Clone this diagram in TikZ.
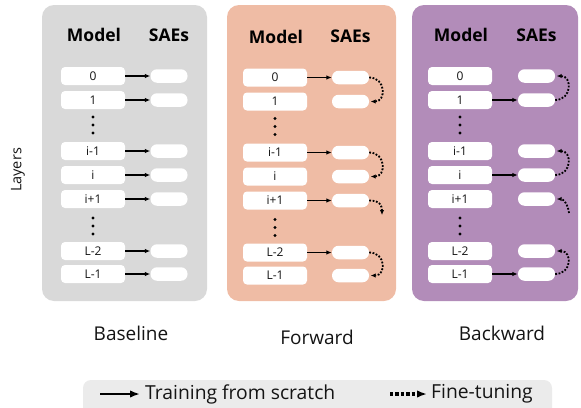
\documentclass[tikz,border=0pt]{standalone}
\usepackage{fontspec}
\setmainfont{Open Sans}
\usetikzlibrary{arrows.meta}
\definecolor{pgray}{HTML}{D9D9D9}
\definecolor{psalmon}{HTML}{EFBCA5}
\definecolor{ppurple}{HTML}{B28CB9}
\definecolor{lgray}{HTML}{EBEBEB}
\definecolor{txt}{HTML}{141414}
\tikzset{
  panel/.style={rounded corners=12pt},
  layerbox/.style={fill=white, rounded corners=4pt, minimum width=64pt, minimum height=18pt, inner sep=0pt, text=txt, font=\fontsize{12}{14}\selectfont},
  saebox/.style={fill=white, rounded corners=6.5pt, minimum width=37pt, minimum height=13.5pt, inner sep=0pt},
  vdot/.style={circle, fill=black, inner sep=0pt, minimum size=3.4pt},
  coltitle/.style={font=\fontsize{17.5}{20}\selectfont\bfseries, text=black},
  caption/.style={font=\fontsize{19}{22}\selectfont, text=txt},
  legtext/.style={font=\fontsize{19.3}{22}\selectfont, text=txt, anchor=west, inner sep=0pt},
  train/.style={-{Latex[length=5.5pt,width=4.5pt]}, line width=1.6pt},
  fine/.style={-{Latex[length=5pt,width=4.5pt]}, line width=1.8pt, dash pattern=on 1.8pt off 1.6pt},
  legtrain/.style={-{Latex[length=10pt,width=7.5pt]}, line width=2.5pt},
  legfine/.style={-{Latex[length=10pt,width=7.5pt]}, line width=3.2pt, dash pattern=on 3.4pt off 2pt},
}
\newcommand{\drawpanel}[4]{%
  \foreach \n/\lab/\yy in {a/0/76, b/1/100, c/i-1/151, d/i/175, e/i+1/199, f/L-2/251, g/L-1/274} {
    \node[layerbox] (#1m\n) at (#2,\yy+#4) {\lab};
    \node[saebox] (#1s\n) at (#3,\yy+#4) {};
  }
  \node[vdot] (#1du1) at (#2,117+#4) {};
  \node[vdot] (#1du2) at (#2,125+#4) {};
  \node[vdot] (#1du3) at (#2,133+#4) {};
  \node[vdot] (#1dl1) at (#2,218+#4) {};
  \node[vdot] (#1dl2) at (#2,226+#4) {};
  \node[vdot] (#1dl3) at (#2,234+#4) {};
  \node[coltitle] (#1tm) at (#2+1,35+#4) {Model};
  \node[coltitle] (#1ts) at (#3,35+#4) {SAEs};
}
\begin{document}
\begin{tikzpicture}[x=1pt,y=-1pt]
\useasboundingbox (0,0) rectangle (581,407);
% panels
\fill[panel, pgray] (42,5) rectangle (207,301);
\fill[panel, psalmon] (227,5) rectangle (396,301);
\fill[panel, ppurple] (412,5) rectangle (578,301);
% contents
\drawpanel{A}{93}{169}{0}
\drawpanel{B}{275}{350.5}{1.5}
\drawpanel{C}{460}{536.5}{0}
% baseline arrows
\foreach \n in {a,b,c,d,e,f,g} { \draw[train] (Am\n) -- (As\n); }
% forward
\foreach \n in {a,c,e,f} { \draw[train] (Bm\n) -- (Bs\n); }
\draw[fine, shorten >=1.5pt] (Bsa.east) .. controls +(17,0) and +(17,0) .. (Bsb.east);
\draw[fine, shorten >=1.5pt] (Bsc.east) .. controls +(17,0) and +(17,0) .. (Bsd.east);
\draw[fine, shorten >=1.5pt] (Bsf.east) .. controls +(17,0) and +(17,0) .. (Bsg.east);
\coordinate (Bend) at (382,215);
\draw[fine] (Bse.east) .. controls +(11,0) and +(0,-9) .. (Bend);
% backward
\foreach \n in {b,d,g} { \draw[train] (Cm\n) -- (Cs\n); }
\draw[fine, shorten >=1.5pt] (Csb.east) .. controls +(17,0) and +(17,0) .. (Csa.east);
\draw[fine, shorten >=1.5pt] (Csd.east) .. controls +(17,0) and +(17,0) .. (Csc.east);
\draw[fine, shorten >=1.5pt] (Csg.east) .. controls +(17,0) and +(17,0) .. (Csf.east);
\coordinate (Cstart) at (569,213);
\draw[fine, shorten >=1.5pt] (Cstart) .. controls +(-1,-9) and +(8,0) .. (Cse.east);
% side label
\node[rotate=90, font=\fontsize{14.5}{17}\selectfont, text=txt] (layers) at (18,170) {Layers};
% captions
\node[caption] (cap1) at (131,333) {Baseline};
\node[caption] (cap2) at (317,337) {Forward};
\node[caption] (cap3) at (502,333) {Backward};
% legend
\fill[rounded corners=8pt, lgray] (83,380) rectangle (552,425);
\coordinate (l1s) at (100,394);
\coordinate (l1e) at (140,394);
\draw[legtrain] (l1s) -- (l1e);
\node[legtext] (lt1) at (145,394) {Training from scratch};
\coordinate (l2s) at (390,394);
\coordinate (l2e) at (427,394);
\draw[legfine] (l2s) -- (l2e);
\node[legtext] (lt2) at (431,394) {Fine-tuning};
\end{tikzpicture}
\end{document}
